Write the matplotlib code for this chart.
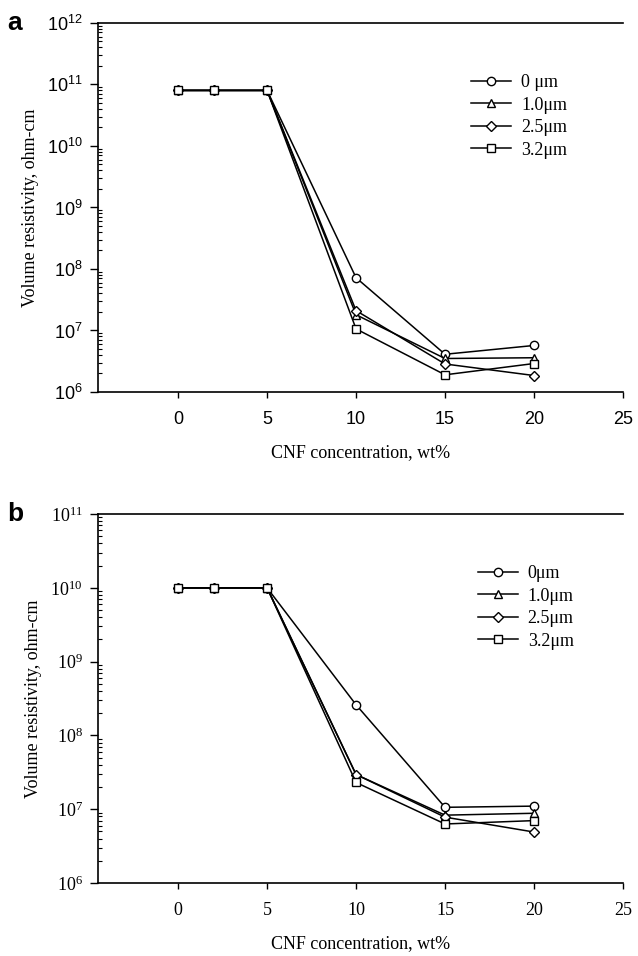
import matplotlib.pyplot as plt
from matplotlib.ticker import LogLocator, FixedLocator, NullFormatter
import numpy as np

# CNF concentration, wt%
cnf = [0, 2, 5, 10, 15, 20]
labels_a = ["0 \u03bcm", "1.0\u03bcm", "2.5\u03bcm", "3.2\u03bcm"]
labels_b = ["0\u03bcm", "1.0\u03bcm", "2.5\u03bcm", "3.2\u03bcm"]
markers = ["o", "^", "D", "s"]

# panel a, volume resistivity (ohm-cm)
res_a_0 = [8.0e10, 8.0e10, 8.0e10, 7.2e7, 4.1e6, 5.7e6]
res_a_10 = [8.0e10, 8.0e10, 8.0e10, 1.8e7, 3.5e6, 3.6e6]
res_a_25 = [8.0e10, 8.0e10, 8.0e10, 2.1e7, 2.85e6, 1.85e6]
res_a_32 = [8.0e10, 8.0e10, 8.0e10, 1.06e7, 1.9e6, 2.9e6]

# panel b
res_b_0 = [1.0e10, 1.0e10, 1.0e10, 2.6e8, 1.06e7, 1.1e7]
res_b_10 = [1.0e10, 1.0e10, 1.0e10, 2.95e7, 8.3e6, 8.8e6]
res_b_25 = [1.0e10, 1.0e10, 1.0e10, 2.95e7, 7.8e6, 4.9e6]
res_b_32 = [1.0e10, 1.0e10, 1.0e10, 2.3e7, 6.3e6, 7.0e6]

serif = ["Liberation Serif", "DejaVu Serif"]
sans = ["Liberation Sans", "DejaVu Sans"]


def style_axes(ax, ymin, ymax, tick_family):
    ax.set_yscale("log")
    ax.set_xlim(-4.5, 25)
    ax.set_ylim(ymin, ymax)
    ax.spines["right"].set_visible(False)
    for s in ax.spines.values():
        s.set_linewidth(1.2)
    ax.xaxis.set_major_locator(FixedLocator([0, 5, 10, 15, 20, 25]))
    ax.yaxis.set_major_locator(LogLocator(base=10, numticks=20))
    ax.yaxis.set_minor_locator(LogLocator(base=10, subs=np.arange(2, 10), numticks=50))
    ax.yaxis.set_minor_formatter(NullFormatter())
    ax.tick_params(axis="x", direction="out", length=4, width=1, top=False, pad=10)
    ax.tick_params(axis="y", which="major", direction="out", length=6, width=1, pad=5)
    ax.tick_params(axis="y", which="minor", direction="in", length=3, width=0.8)
    for t in ax.get_xticklabels() + ax.get_yticklabels():
        t.set_family(tick_family)
        t.set_fontsize(13)
    ax.set_xlabel("CNF concentration, wt%", family=serif, fontsize=13, labelpad=11)
    ax.set_ylabel("Volume resistivity, ohm-cm", family=serif, fontsize=13, labelpad=6)


fig = plt.figure(figsize=(6.38, 9.56), dpi=100)
ax_a = fig.add_axes([0.1536, 0.590, 0.8229, 0.386])
ax_b = fig.add_axes([0.1536, 0.0764, 0.8229, 0.3859])

for ax, series, labels in [
    (ax_a, [res_a_0, res_a_10, res_a_25, res_a_32], labels_a),
    (ax_b, [res_b_0, res_b_10, res_b_25, res_b_32], labels_b),
]:
    for vals, m, lab in zip(series, markers, labels):
        ms = 5.0 if m == "D" else 6.0
        ax.plot(cnf, vals, marker=m, color="black", lw=1.1, ms=ms,
                mfc="white", mec="black", mew=1.0, label=lab)

style_axes(ax_a, 1e6, 1e12, sans)
style_axes(ax_b, 1e6, 1e11, serif)

ax_a.legend(loc="upper left", bbox_to_anchor=(0.68, 0.905), frameon=False,
            prop={"family": serif, "size": 13}, handlelength=2.2,
            handletextpad=0.55, labelspacing=0.3)
ax_b.legend(loc="upper left", bbox_to_anchor=(0.693, 0.905), frameon=False,
            prop={"family": serif, "size": 13}, handlelength=2.2,
            handletextpad=0.55, labelspacing=0.3)

fig.text(0.012, 0.976, "a", family=sans, fontsize=19, fontweight="bold", va="center")
fig.text(0.012, 0.462, "b", family=sans, fontsize=19, fontweight="bold", va="center")

plt.savefig("out.png", dpi=100)
